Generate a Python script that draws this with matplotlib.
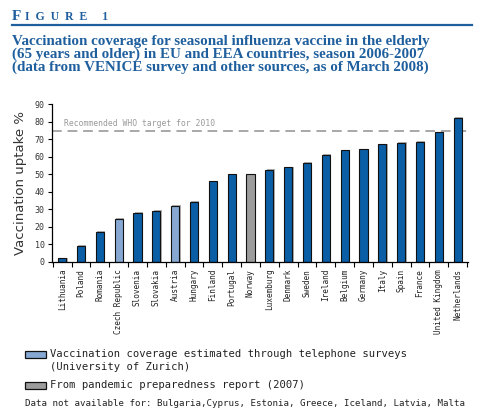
import matplotlib.pyplot as plt
import matplotlib.patches as mpatches
import numpy as np

countries = ['Lithuania', 'Poland', 'Romania', 'Czech Republic', 'Slovenia', 'Slovakia',
             'Austria', 'Hungary', 'Finland', 'Portugal', 'Norway', 'Luxemburg', 'Denmark',
             'Sweden', 'Ireland', 'Belgium', 'Germany', 'Italy', 'Spain', 'France',
             'United Kingdom', 'Netherlands']
uptake = [2, 9, 17, 24.5, 28, 29, 32, 34.5, 46, 50, 50, 52.5, 54, 56.5, 61, 63.8, 64.3,
          67.2, 68.2, 68.5, 74, 82.3]
# 来源: 0 = VENICE, 1 = 电话调查, 2 = 大流行准备报告
source = [0, 0, 0, 1, 0, 0, 1, 0, 0, 0, 2, 0, 0, 0, 0, 0, 0, 0, 0, 0, 0, 0]
who_target = 75

dark_blue = '#0a5ea6'
light_blue = '#86a8d2'
grey = '#9c9c9c'
title_blue = '#1f5f9d'
colors = [dark_blue, light_blue, grey]
mono = 'DejaVu Sans Mono'

fig = plt.figure(figsize=(4.84, 4.13), dpi=100)
ax = fig.add_axes([0.107, 0.366, 0.860, 0.381])

x = np.arange(len(countries))
# 柱子右侧的灰色阴影
ax.bar(x + 0.07, np.array(uptake) + 0.4, width=0.43, color='#b0b0b0', zorder=1)
ax.bar(x, uptake, width=0.43, color=[colors[s] for s in source],
       edgecolor='#111111', linewidth=0.8, zorder=2)

ax.axhline(who_target, color='#a8a8a8', linestyle=(0, (5, 3)), linewidth=1.4, zorder=0)
ax.text(0.1, who_target + 1.5, 'Recommended WHO target for 2010', family=mono,
        fontsize=5.8, color='#999999', va='bottom')

ax.set_xlim(-0.55, len(countries) - 0.45)
ax.set_ylim(0, 90)
ax.set_yticks(range(0, 91, 10))
ax.set_xticks(x)
ax.set_xticklabels(countries, rotation=90, family=mono, fontsize=5.6, color='#222222')
ax.set_xticks(np.arange(-0.5, len(countries)), minor=True)
ax.tick_params(axis='x', which='major', length=0, pad=5)
ax.tick_params(axis='x', which='minor', length=3.5, width=0.8, direction='out')
ax.tick_params(axis='y', length=3, width=0.8, labelsize=6, pad=2, labelcolor='#333333')
for lab in ax.get_yticklabels():
    lab.set_family(mono)
ax.set_ylabel('Vaccination uptake %', fontsize=9.5, color='#333333', labelpad=6)
ax.spines['top'].set_visible(False)
ax.spines['right'].set_visible(False)
for s in ('left', 'bottom'):
    ax.spines[s].set_linewidth(0.9)

# 标题
fig.text(12 / 484, 1 - 16 / 413, 'F', fontsize=11, family='Liberation Serif',
         fontweight='bold', color=title_blue, va='center')
fig.text(25 / 484, 1 - 16.5 / 413, 'I  G  U  R  E     1', fontsize=8.5, family='Liberation Serif',
         fontweight='bold', color=title_blue, va='center')
fig.add_artist(plt.Line2D([12 / 484, 472 / 484], [1 - 25 / 413, 1 - 25 / 413],
                          color=title_blue, linewidth=1.6))
title_lines = ['Vaccination coverage for seasonal influenza vaccine in the elderly',
               '(65 years and older) in EU and EEA countries, season 2006-2007',
               '(data from VENICE survey and other sources, as of March 2008)']
for i, t in enumerate(title_lines):
    fig.text(12 / 484, 1 - (41 + 13 * i) / 413, t, fontsize=10.8, family='Liberation Serif',
             fontweight='bold', color=title_blue, va='center')

# 图例
def legend_box(y, color):
    fig.add_artist(mpatches.Rectangle((25 / 484, 1 - (y + 3.5) / 413), 21 / 484, 7 / 413,
                                      facecolor=color, edgecolor='#111111', linewidth=0.9))

legend_box(354, light_blue)
fig.text(50 / 484, 1 - 354 / 413, 'Vaccination coverage estimated through telephone surveys',
         family=mono, fontsize=7.55, color='#222222', va='center')
fig.text(50 / 484, 1 - 367 / 413, '(University of Zurich)',
         family=mono, fontsize=7.55, color='#222222', va='center')
legend_box(385, grey)
fig.text(50 / 484, 1 - 385 / 413, 'From pandemic preparedness report (2007)',
         family=mono, fontsize=7.55, color='#222222', va='center')
fig.text(25 / 484, 1 - 404 / 413,
         'Data not available for: Bulgaria,Cyprus, Estonia, Greece, Iceland, Latvia, Malta',
         family=mono, fontsize=6.55, color='#222222', va='center')

fig.savefig('out.png', dpi=100)
